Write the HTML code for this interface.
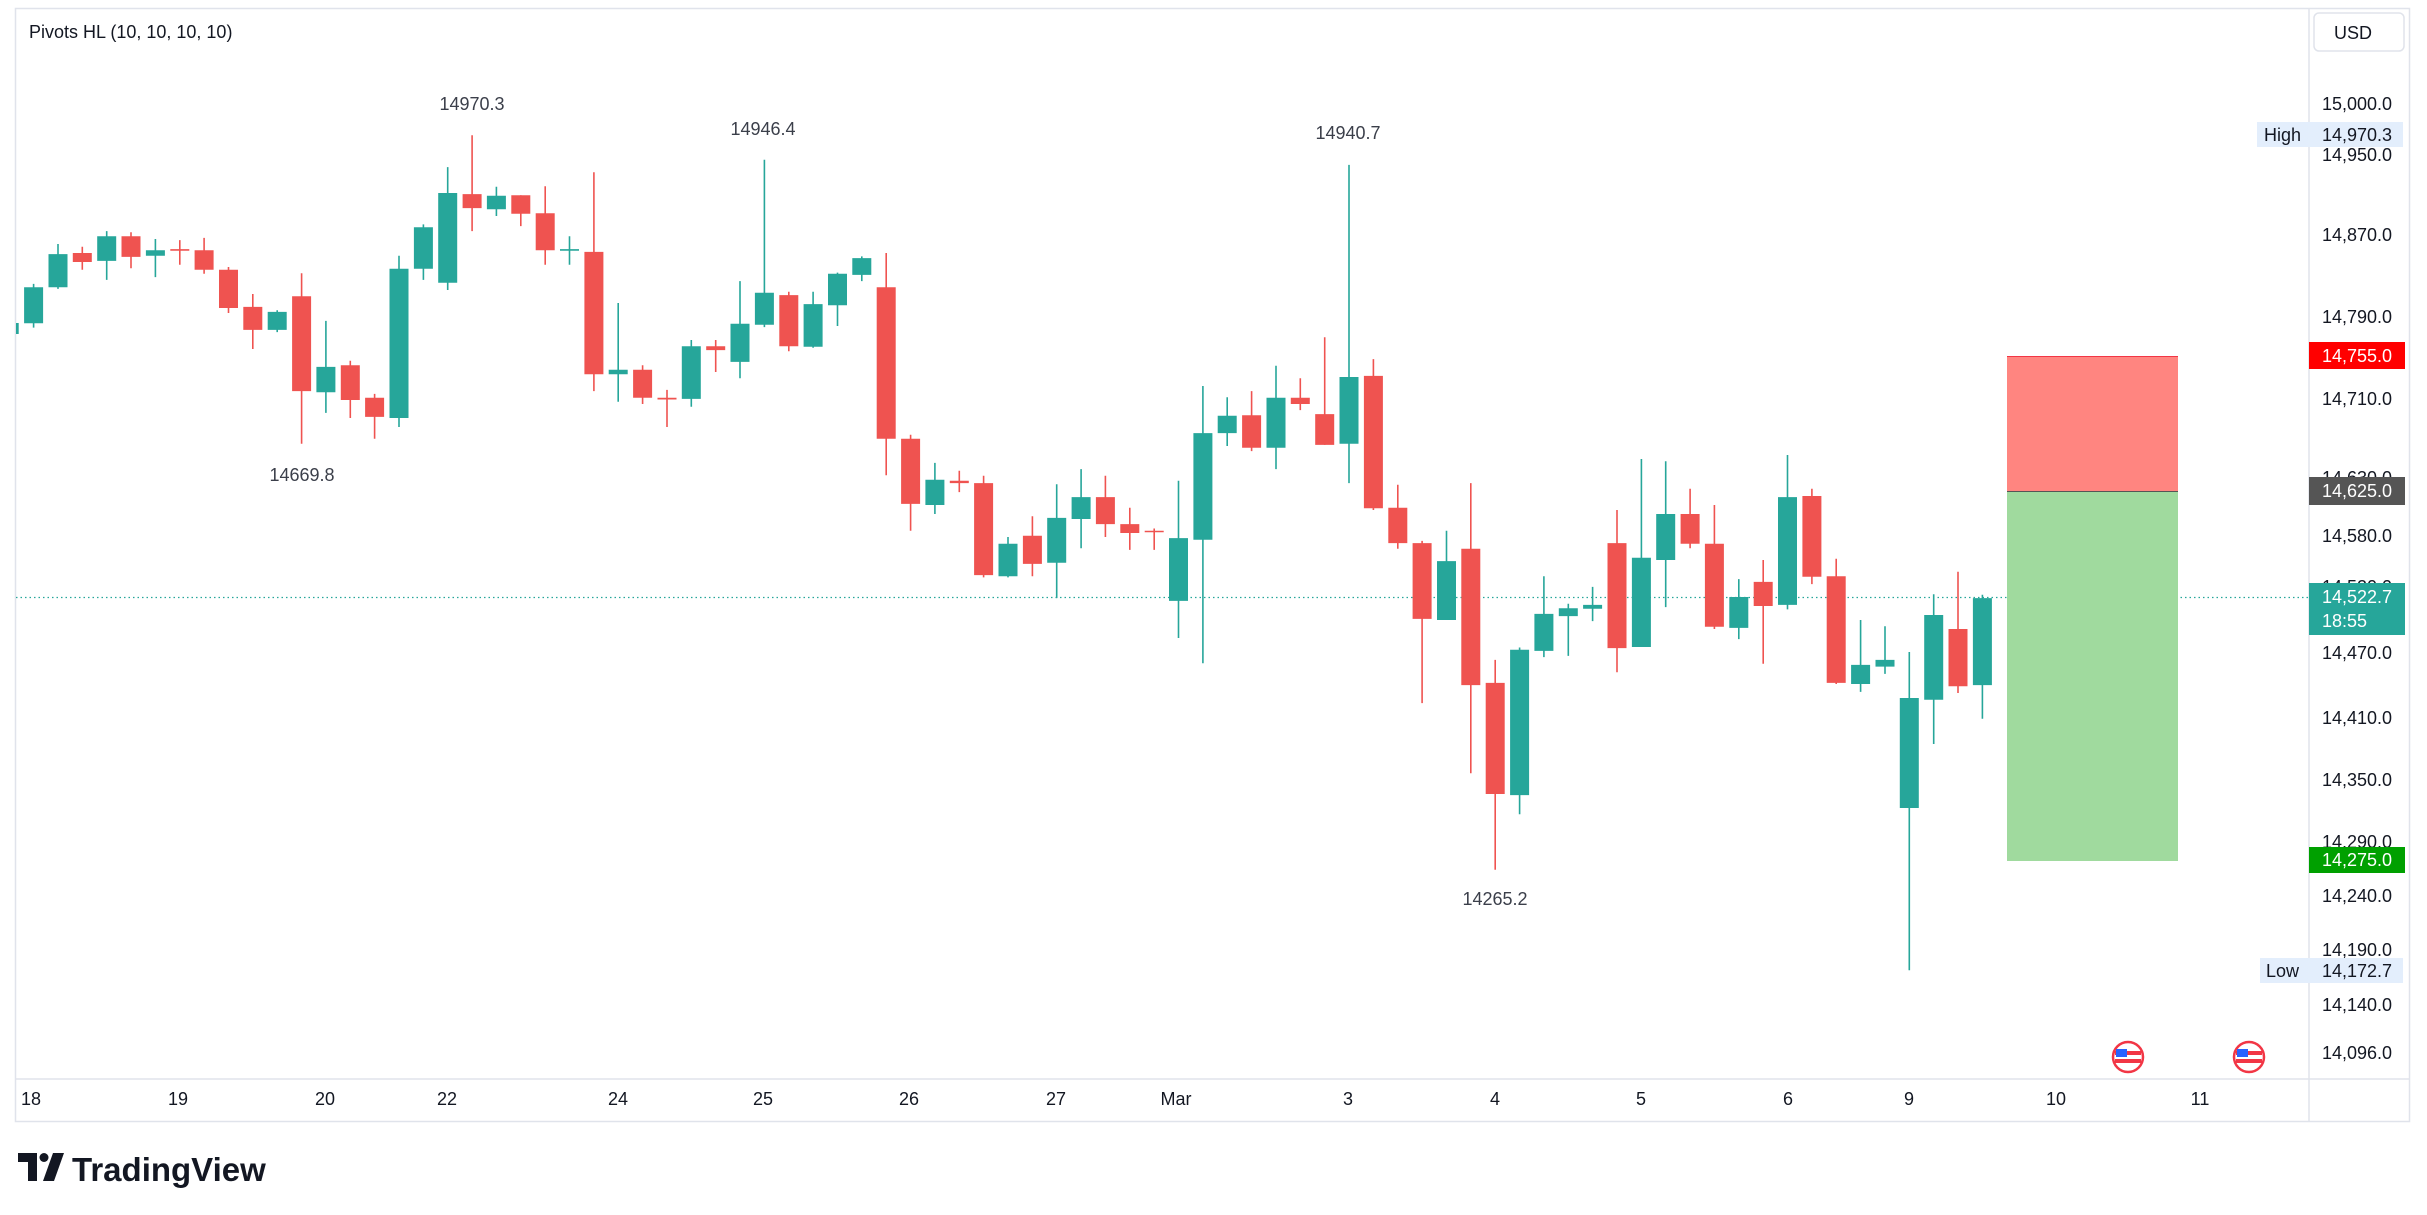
<!DOCTYPE html>
<html><head><meta charset="utf-8"><style>
html,body{margin:0;padding:0;background:#fff;width:2427px;height:1215px;overflow:hidden}
svg{display:block}
text{font-family:"Liberation Sans",sans-serif}
</style></head><body>
<svg width="2427" height="1215" viewBox="0 0 2427 1215" xmlns="http://www.w3.org/2000/svg">
<defs><clipPath id="pa"><rect x="16" y="9" width="2293" height="1070"/></clipPath></defs>
<rect x="15.5" y="8.5" width="2394" height="1113" fill="#fff" stroke="#e0e3eb" stroke-width="1.5"/>
<line x1="2309" y1="8" x2="2309" y2="1121" stroke="#e0e3eb" stroke-width="1.5"/>
<line x1="15" y1="1079" x2="2410" y2="1079" stroke="#e0e3eb" stroke-width="1.5"/>
<g clip-path="url(#pa)">
<line x1="16" y1="597.5" x2="2309" y2="597.5" stroke="#26a69a" stroke-width="1.2" stroke-dasharray="1.5 3"/>
<rect x="2007" y="356" width="171" height="135.5" fill="#ff8580"/>
<rect x="2007" y="491.5" width="171" height="369.5" fill="#a0da9e"/>
<line x1="2007" y1="356.5" x2="2178" y2="356.5" stroke="#f23645" stroke-width="1"/>
<line x1="2007" y1="491.5" x2="2178" y2="491.5" stroke="#555" stroke-width="1"/>
<path stroke="#26a69a" stroke-width="1.6" fill="none" d="M9.2 323V334M33.6 283.9V327.6M58 244V288.9M106.7 231.1V279.9M155.4 239V277.1M277.2 310.2V332.1M325.9 320.9V412.9M399 255.8V427M423.4 224.4V279.9M447.7 167.1V290M496.4 186.8V216M569.5 236.2V264.8M618.2 303V401.7M691.3 340V406.8M740 281.1V378.2M764.4 159.8V327.1M813.1 291.7V347.8M837.5 272.6V326M861.8 256.4V281.1M934.9 462.9V514M1008 537V577.4M1056.7 484.2V598.1M1081.1 469.1V548.2M1178.5 480.8V638M1202.9 386V663.2M1227.2 397.2V446M1276 365.8V469.1M1349 164.9V483.1M1446.5 530.8V620M1519.6 647.5V814.2M1543.9 576.3V657.1M1568.3 603.8V655.9M1592.6 586.9V621.1M1641.4 459V647M1665.7 461.2V607.1M1738.8 579.1V639.1M1787.5 455V609.4M1860.6 620V691.9M1885 626.2V673.9M1909.3 652V970.2M1933.7 594.2V744M1982.4 594.8V718.8"/>
<path fill="#26a69a" d="M-0.3 323h19V334h-19ZM24.1 287.2h19V323.2h-19ZM48.5 254.1h19V287.2h-19ZM97.2 236.2h19V260.9h-19ZM145.9 250.2h19V255.8h-19ZM267.7 311.9h19V329.9h-19ZM316.4 366.9h19V392.2h-19ZM389.5 268.7h19V418h-19ZM413.9 227.2h19V268.7h-19ZM438.2 193h19V282.7h-19ZM486.9 195.8h19V209.2h-19ZM560 249.1h19V250.7h-19ZM608.7 369.7h19V374.2h-19ZM681.8 346.2h19V398.9h-19ZM730.5 323.7h19V361.9h-19ZM754.9 292.8h19V324.8h-19ZM803.6 304.1h19V346.7h-19ZM828 273.8h19V305.2h-19ZM852.3 258.1h19V274.9h-19ZM925.4 479.7h19V505h-19ZM998.5 543.7h19V576.3h-19ZM1047.2 517.9h19V562.8h-19ZM1071.6 497.1h19V519h-19ZM1169 538.1h19V600.9h-19ZM1193.4 433.1h19V539.8h-19ZM1217.7 415.7h19V433.1h-19ZM1266.5 397.8h19V447.7h-19ZM1339.5 377h19V443.8h-19ZM1437 561.1h19V620h-19ZM1510.1 649.8h19V795.1h-19ZM1534.4 613.9h19V650.9h-19ZM1558.8 608.2h19V616.1h-19ZM1583.1 604.9h19V608.8h-19ZM1631.9 557.7h19V647h-19ZM1656.2 514h19V560h-19ZM1729.3 597h19V627.9h-19ZM1778 497.1h19V604.9h-19ZM1851.1 664.9h19V684h-19ZM1875.5 659.9h19V666.6h-19ZM1899.8 698h19V808h-19ZM1924.2 615h19V699.7h-19ZM1972.9 598.1h19V685.1h-19Z"/>
<path stroke="#ef5350" stroke-width="1.6" fill="none" d="M82.3 246.8V269.8M131 232.2V268.2M179.8 240.1V264.8M204.1 237.9V273.8M228.5 267V313M252.8 294V349M301.6 273.2V443.8M350.3 360.7V418M374.6 393.9V438.8M472.1 135.2V231.1M520.8 195.2V226.1M545.2 186.2V264.8M593.9 172.2V391.1M642.6 365.2V404M667 389.9V427M715.7 340V372M788.8 291.7V351.2M886.2 253V475.2M910.6 434.8V530.8M959.3 470.7V492.1M983.6 475.8V577.4M1032.4 516.2V576.3M1105.4 475.8V537M1129.8 507.8V549.9M1154.2 528.5V549.9M1251.6 391.1V451.1M1300.3 378.2V410.1M1324.7 337.2V444.9M1373.4 359.1V510M1397.8 484.8V548.8M1422.1 540.9V703.1M1470.8 483.1V773.2M1495.2 659.9V869.8M1617 510V672.2M1690.1 488.7V548.2M1714.4 505V629M1763.2 560V663.8M1811.9 488.7V584.1M1836.2 558.8V684M1958 571.8V693"/>
<path fill="#ef5350" d="M72.8 253h19V262h-19ZM121.5 236.2h19V256.9h-19ZM170.3 249.1h19V250.7h-19ZM194.6 250.2h19V269.8h-19ZM219 269.8h19V308h-19ZM243.3 306.9h19V329.9h-19ZM292.1 296.2h19V391.1h-19ZM340.8 365.2h19V400h-19ZM365.1 397.8h19V416.9h-19ZM462.6 194.1h19V208.1h-19ZM511.3 195.2h19V213.7h-19ZM535.7 213.2h19V250.2h-19ZM584.4 251.9h19V374.2h-19ZM633.1 369.7h19V397.8h-19ZM657.5 397.8h19V399.5h-19ZM706.2 346.2h19V350.1h-19ZM779.3 295.1h19V346.2h-19ZM876.7 287.2h19V438.8h-19ZM901.1 438.8h19V503.9h-19ZM949.8 480.8h19V483.1h-19ZM974.1 483.1h19V575.1h-19ZM1022.9 535.8h19V563.9h-19ZM1095.9 497.1h19V524.1h-19ZM1120.3 524.1h19V533h-19ZM1144.7 530.8h19V532.3h-19ZM1242.1 415.2h19V447.7h-19ZM1290.8 397.8h19V404h-19ZM1315.2 414.1h19V444.9h-19ZM1363.9 375.9h19V508.3h-19ZM1388.3 507.8h19V543.1h-19ZM1412.6 543.1h19V618.9h-19ZM1461.3 548.8h19V685.1h-19ZM1485.7 682.9h19V794h-19ZM1607.5 543.1h19V648.1h-19ZM1680.6 514h19V543.7h-19ZM1704.9 543.7h19V626.8h-19ZM1753.7 581.9h19V606h-19ZM1802.4 496h19V576.8h-19ZM1826.7 576.3h19V682.9h-19ZM1948.5 629h19V686.2h-19Z"/>
</g>
<text x="29" y="38" font-size="18" fill="#131722">Pivots HL (10, 10, 10, 10)</text>
<g font-size="18" fill="#3b3f4a" text-anchor="middle">
<text x="472" y="110">14970.3</text>
<text x="763" y="135">14946.4</text>
<text x="302" y="481">14669.8</text>
<text x="1348" y="139">14940.7</text>
<text x="1495" y="905">14265.2</text>
</g>
<g font-size="18" fill="#131722" text-anchor="middle">
<text x="31" y="1105">18</text><text x="178" y="1105">19</text><text x="325" y="1105">20</text><text x="447" y="1105">22</text><text x="618" y="1105">24</text><text x="763" y="1105">25</text><text x="909" y="1105">26</text><text x="1056" y="1105">27</text><text x="1176" y="1105">Mar</text><text x="1348" y="1105">3</text><text x="1495" y="1105">4</text><text x="1641" y="1105">5</text><text x="1788" y="1105">6</text><text x="1909" y="1105">9</text><text x="2056" y="1105">10</text><text x="2200" y="1105">11</text>
</g>
<g font-size="18" fill="#131722">
<text x="2322" y="110">15,000.0</text><text x="2322" y="161">14,950.0</text><text x="2322" y="241">14,870.0</text><text x="2322" y="323">14,790.0</text><text x="2322" y="405">14,710.0</text><text x="2322" y="484">14,630.0</text><text x="2322" y="542">14,580.0</text><text x="2322" y="593">14,520.0</text><text x="2322" y="659">14,470.0</text><text x="2322" y="724">14,410.0</text><text x="2322" y="786">14,350.0</text><text x="2322" y="848">14,290.0</text><text x="2322" y="902">14,240.0</text><text x="2322" y="956">14,190.0</text><text x="2322" y="1011">14,140.0</text><text x="2322" y="1059">14,096.0</text>
</g>
<rect x="2257" y="122" width="146" height="25" fill="#e3eefc"/>
<text x="2264" y="141" font-size="18" fill="#131722">High</text>
<text x="2322" y="141" font-size="18" fill="#131722">14,970.3</text>
<rect x="2260" y="958" width="143" height="25" fill="#e3eefc"/>
<text x="2266" y="977" font-size="18" fill="#131722">Low</text>
<text x="2322" y="977" font-size="18" fill="#131722">14,172.7</text>
<rect x="2309" y="342" width="96" height="27" fill="#ff0000"/>
<text x="2322" y="362" font-size="18" fill="#fff">14,755.0</text>
<rect x="2309" y="477" width="96" height="28" fill="#555555"/>
<text x="2322" y="497" font-size="18" fill="#fff">14,625.0</text>
<rect x="2309" y="583" width="96" height="52" fill="#26a69a"/>
<text x="2322" y="603" font-size="18" fill="#fff">14,522.7</text>
<text x="2322" y="627" font-size="18" fill="#fff">18:55</text>
<rect x="2309" y="847" width="96" height="26" fill="#00a000"/>
<text x="2322" y="866" font-size="18" fill="#fff">14,275.0</text>
<rect x="2314" y="13" width="90" height="38" rx="5" fill="#fff" stroke="#e0e3eb" stroke-width="1.5"/>
<text x="2334" y="39" font-size="18" fill="#131722">USD</text>
<g>
<circle cx="2128" cy="1057" r="15" fill="#fff" stroke="#f23645" stroke-width="2.5"/>
<rect x="2115" y="1051" width="26" height="4" fill="#f23645"/><rect x="2115" y="1059" width="26" height="4" fill="#f23645"/><rect x="2116" y="1049" width="11" height="8" fill="#2962ff"/>
<circle cx="2249" cy="1057" r="15" fill="#fff" stroke="#f23645" stroke-width="2.5"/>
<rect x="2236" y="1051" width="26" height="4" fill="#f23645"/><rect x="2236" y="1059" width="26" height="4" fill="#f23645"/><rect x="2237" y="1049" width="11" height="8" fill="#2962ff"/>
</g>
<g fill="#131722">
<path d="M18 1153H37V1181H28V1162H18Z"/>
<circle cx="44" cy="1157.5" r="4.5"/>
<path d="M53 1153H64L54 1181H43Z"/>
<text x="72" y="1181" font-size="33" font-weight="bold">TradingView</text>
</g>
</svg>
</body></html>
